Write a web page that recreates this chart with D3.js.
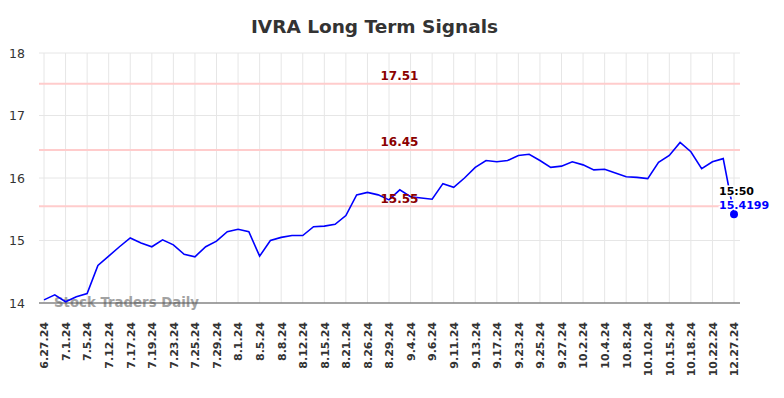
<!DOCTYPE html>
<html>
<head>
<meta charset="utf-8">
<script src="https://cdn.jsdelivr.net/npm/d3@7"></script>
<style>
  body { margin: 0; background: #fff; }
  svg { font-family: "DejaVu Sans", sans-serif; }
</style>
</head>
<body>
<svg id="chart" width="784" height="398"></svg>
<script>
// tick labels (every other data point gets one)
const tickLabels = ["6.27.24", "7.1.24", "7.5.24", "7.12.24", "7.17.24", "7.19.24", "7.23.24",
  "7.25.24", "7.29.24", "8.1.24", "8.5.24", "8.8.24", "8.12.24", "8.15.24", "8.21.24",
  "8.26.24", "8.29.24", "9.4.24", "9.6.24", "9.11.24", "9.13.24", "9.17.24", "9.23.24",
  "9.25.24", "9.27.24", "10.2.24", "10.4.24", "10.8.24", "10.10.24", "10.15.24",
  "10.18.24", "10.22.24", "12.27.24"];

const prices = [14.05, 14.13, 14.02, 14.10, 14.15, 14.60, 14.75, 14.90, 15.04, 14.96,
  14.90, 15.01, 14.93, 14.78, 14.74, 14.90, 14.99, 15.14, 15.18, 15.14,
  14.75, 15.00, 15.05, 15.08, 15.08, 15.22, 15.23, 15.26, 15.40, 15.73,
  15.77, 15.73, 15.65, 15.81, 15.70, 15.68, 15.66, 15.91, 15.85, 16.00,
  16.17, 16.28, 16.26, 16.28, 16.36, 16.38, 16.28, 16.17, 16.19, 16.26,
  16.21, 16.13, 16.14, 16.08, 16.02, 16.01, 15.99, 16.25, 16.36, 16.57,
  16.42, 16.15, 16.26, 16.31, 15.4199];

const signalLevels = [17.51, 16.45, 15.55];
const yTicks = [14, 15, 16, 17, 18];
const lastTime = "15:50";

const svg = d3.select("#chart"),
  margin = { top: 53, right: 44, bottom: 95, left: 39 },
  width = +svg.attr("width"),
  height = +svg.attr("height");

const x = d3.scaleLinear().domain([0, prices.length - 1]).range([44, 734]);
const y = d3.scaleLinear().domain([14, 18]).range([height - margin.bottom, margin.top]);
const tickIdx = d3.range(0, prices.length, 2);

// grid
svg.append("g")
  .selectAll("line.h")
  .data(yTicks)
  .enter().append("line")
  .attr("x1", margin.left).attr("x2", width - margin.right)
  .attr("y1", d => y(d)).attr("y2", d => y(d))
  .attr("stroke", "#e6e6e6");

svg.append("g")
  .selectAll("line.v")
  .data(tickIdx)
  .enter().append("line")
  .attr("x1", d => x(d)).attr("x2", d => x(d))
  .attr("y1", y(18)).attr("y2", y(14))
  .attr("stroke", "#e6e6e6");

// y labels
svg.append("g")
  .attr("transform", "translate(" + margin.left + ",0)")
  .call(d3.axisLeft(y).tickValues(yTicks).tickSize(0).tickPadding(14).tickFormat(d3.format("d")))
  .call(g => g.select(".domain").remove())
  .selectAll("text")
  .attr("font-size", 12.5)
  .attr("font-family", "DejaVu Sans, sans-serif")
  .attr("fill", "#333");

// signal lines
svg.append("g")
  .selectAll("line")
  .data(signalLevels)
  .enter().append("line")
  .attr("x1", margin.left).attr("x2", width - margin.right)
  .attr("y1", d => y(d)).attr("y2", d => y(d))
  .attr("stroke", "#ffcccc")
  .attr("stroke-width", 2);

// watermark
svg.append("text")
  .attr("x", 54).attr("y", 307)
  .attr("font-size", 13.3).attr("font-weight", "bold")
  .attr("fill", "#999").attr("opacity", 0.9)
  .text("Stock Traders Daily");

// x axis
const xAxis = svg.append("g")
  .attr("transform", "translate(0," + y(14) + ")")
  .call(d3.axisBottom(x).tickValues(tickIdx).tickSize(0).tickPadding(0)
    .tickFormat(d => tickLabels[d / 2]));
xAxis.select(".domain").remove();
xAxis.selectAll("text")
  .attr("transform", "rotate(-90)")
  .attr("text-anchor", "end")
  .attr("x", -19).attr("y", 0).attr("dy", "0.35em")
  .attr("font-size", 11).attr("font-weight", "bold")
  .attr("font-family", "DejaVu Sans, sans-serif")
  .attr("fill", "#333");
svg.append("line")
  .attr("x1", margin.left).attr("x2", width - margin.right)
  .attr("y1", y(14)).attr("y2", y(14))
  .attr("stroke", "#555").attr("stroke-width", 1.2);

// price line
const line = d3.line().x((d, i) => x(i)).y(d => y(d));
svg.append("path")
  .datum(prices)
  .attr("fill", "none")
  .attr("stroke", "#0000ff")
  .attr("stroke-width", 1.6)
  .attr("d", line);

// signal labels
svg.append("g")
  .selectAll("text")
  .data(signalLevels)
  .enter().append("text")
  .attr("x", 399.5).attr("y", d => y(d) - 3.6)
  .attr("text-anchor", "middle")
  .attr("font-size", 12).attr("font-weight", "bold")
  .attr("fill", "#8b0000")
  .text(d => d3.format(".2f")(d));

// last point
const last = prices.length - 1;
svg.append("text")
  .attr("x", 719).attr("y", 195)
  .attr("font-size", 11).attr("font-weight", "bold")
  .attr("fill", "#000")
  .attr("stroke", "#fff").attr("stroke-width", 3).attr("paint-order", "stroke")
  .text(lastTime);
svg.append("text")
  .attr("x", 719).attr("y", 209)
  .attr("font-size", 11).attr("font-weight", "bold")
  .attr("fill", "#0000ff")
  .attr("stroke", "#fff").attr("stroke-width", 3).attr("paint-order", "stroke")
  .text(prices[last]);
svg.append("circle")
  .attr("cx", x(last)).attr("cy", y(prices[last]))
  .attr("r", 4)
  .attr("fill", "#0000ff");

// title
svg.append("text")
  .attr("x", 374.5).attr("y", 32.5)
  .attr("text-anchor", "middle")
  .attr("font-size", 18.5).attr("font-weight", "bold")
  .attr("fill", "#333")
  .text("IVRA Long Term Signals");
</script>
</body>
</html>
